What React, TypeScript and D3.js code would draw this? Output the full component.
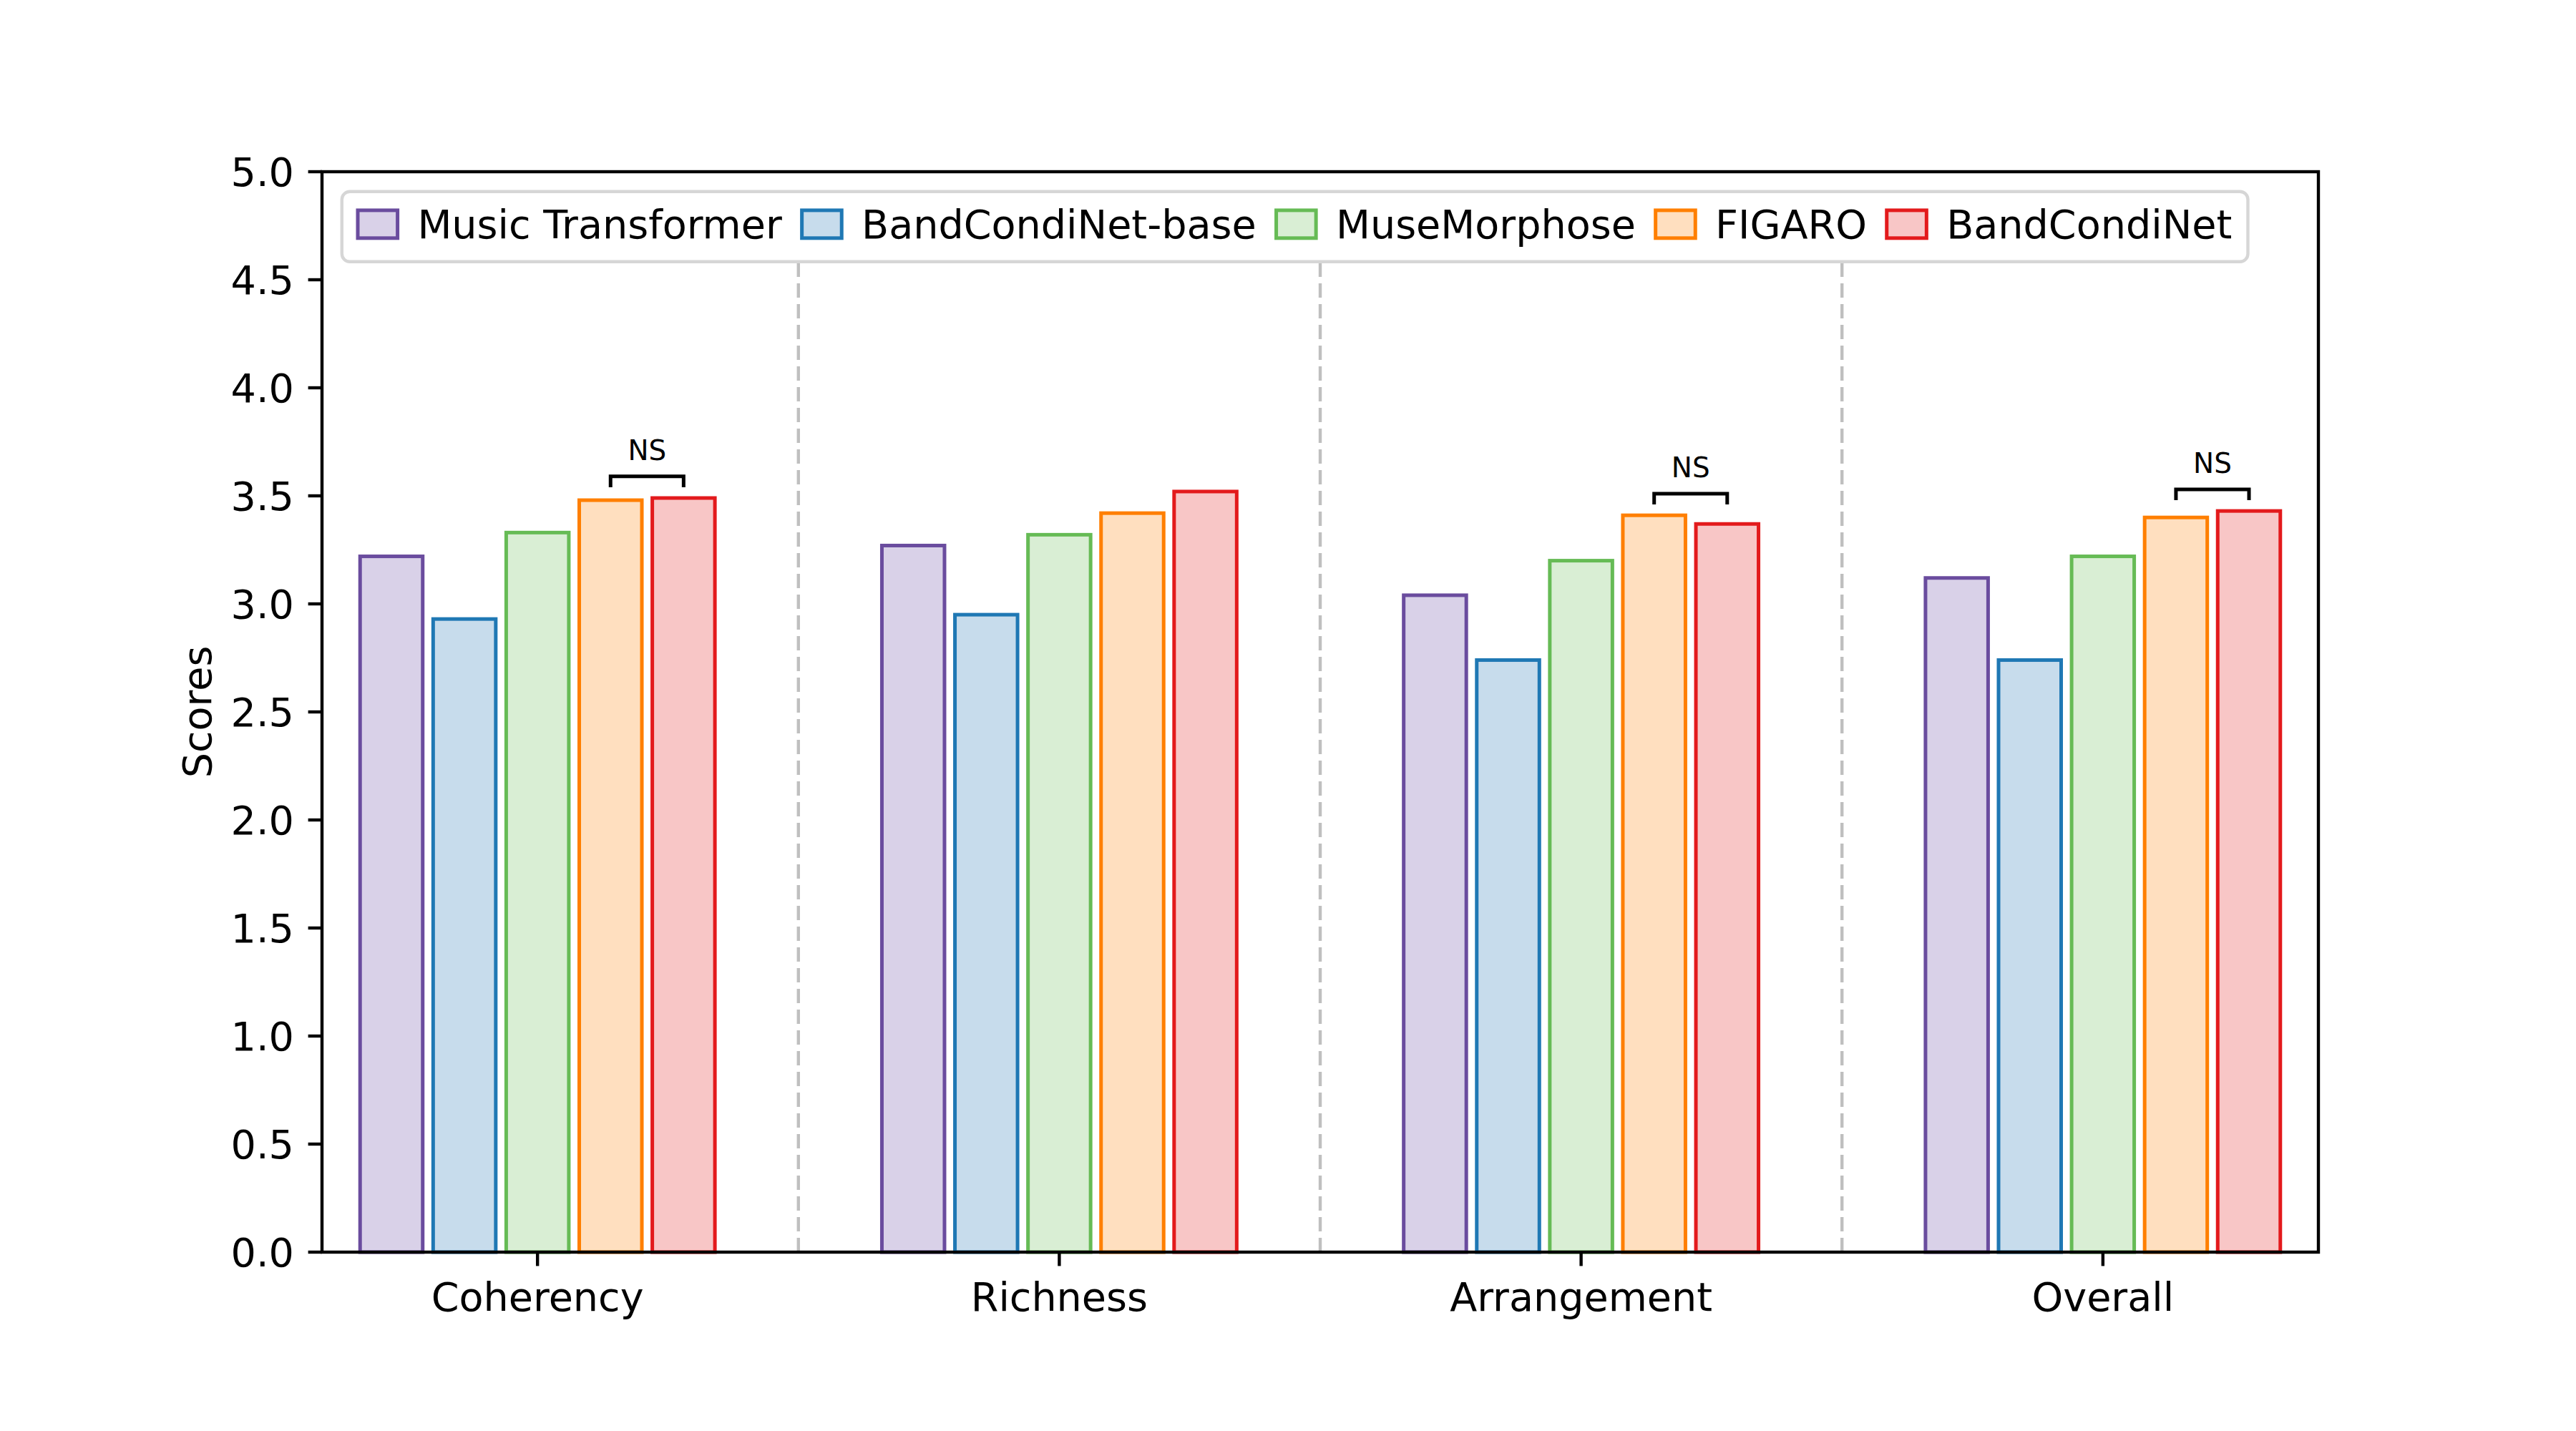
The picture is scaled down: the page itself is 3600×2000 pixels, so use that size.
import React, { useEffect, useRef } from 'react';
import * as d3 from 'd3';

const categories = ['Coherency', 'Richness', 'Arrangement', 'Overall'];
const models = ['Music Transformer', 'BandCondiNet-base', 'MuseMorphose', 'FIGARO', 'BandCondiNet'];

const musicTransformer = [3.22, 3.27, 3.04, 3.12];
const bandCondiNetBase = [2.93, 2.95, 2.74, 2.74];
const museMorphose = [3.33, 3.32, 3.2, 3.22];
const figaro = [3.48, 3.42, 3.41, 3.4];
const bandCondiNet = [3.49, 3.52, 3.37, 3.43];

const seriesValues = [musicTransformer, bandCondiNetBase, museMorphose, figaro, bandCondiNet];

const edgeColors = ['#6a4c9e', '#1f78b4', '#66bb55', '#ff7f00', '#e31a1c'];
const fillColors = ['#d9d1e8', '#c7dcec', '#d9eed4', '#ffdfbf', '#f8c6c6'];

const yTicks = [0, 0.5, 1.0, 1.5, 2.0, 2.5, 3.0, 3.5, 4.0, 4.5, 5.0];
const yTickLabels = ['0.0', '0.5', '1.0', '1.5', '2.0', '2.5', '3.0', '3.5', '4.0', '4.5', '5.0'];

// "NS" brackets between FIGARO and BandCondiNet
const nsCategories = ['Coherency', 'Arrangement', 'Overall'];
const nsPair = [3, 4];

const W = 3600;
const H = 2000;
const FONT = '"DejaVu Sans", sans-serif';
const FS = 55.6;

const App: React.FC = () => {
  const svgRef = useRef<SVGSVGElement>(null);

  useEffect(() => {
    document.body.style.margin = '0';
    if (!svgRef.current) return;
    const svg = d3.select(svgRef.current);
    svg.selectAll('*').remove();

    const left = 450, right = 3240, top = 240, bottom = 1750;
    const x = d3.scaleLinear().domain([-0.413, 3.413]).range([left, right]);
    const y = d3.scaleLinear().domain([0, 5]).range([bottom, top]);

    const step = 0.14;
    const barW = 0.12;

    svg.append('rect').attr('width', W).attr('height', H).attr('fill', '#fff');

    const sepLayer = svg.append('g');
    const barLayer = svg.append('g');

    // Bars
    seriesValues.forEach((vals, si) => {
      barLayer.selectAll(`rect.s${si}`)
        .data(vals)
        .enter()
        .append('rect')
        .attr('x', (_, ci) => x(ci + (si - 2) * step - barW / 2))
        .attr('width', (_, ci) => x(ci + (si - 2) * step + barW / 2) - x(ci + (si - 2) * step - barW / 2))
        .attr('y', d => y(d))
        .attr('height', d => y(0) - y(d))
        .attr('fill', fillColors[si])
        .attr('stroke', edgeColors[si])
        .attr('stroke-width', 5);
    });

    // Spines
    svg.append('rect')
      .attr('x', left).attr('y', top)
      .attr('width', right - left).attr('height', bottom - top)
      .attr('fill', 'none').attr('stroke', '#000').attr('stroke-width', 4.4);

    // Y axis ticks
    const yAxis = svg.append('g');
    yTicks.forEach((t, i) => {
      yAxis.append('line')
        .attr('x1', left).attr('x2', left - 19.4)
        .attr('y1', y(t)).attr('y2', y(t))
        .attr('stroke', '#000').attr('stroke-width', 4.4);
      yAxis.append('text')
        .attr('x', left - 39).attr('y', y(t) + 20)
        .attr('text-anchor', 'end')
        .attr('font-family', FONT).attr('font-size', FS)
        .text(yTickLabels[i]);
    });

    // X axis ticks
    categories.forEach((c, ci) => {
      svg.append('line')
        .attr('x1', x(ci)).attr('x2', x(ci))
        .attr('y1', bottom).attr('y2', bottom + 19.4)
        .attr('stroke', '#000').attr('stroke-width', 4.4);
      svg.append('text')
        .attr('x', x(ci)).attr('y', 1832)
        .attr('text-anchor', 'middle')
        .attr('font-family', FONT).attr('font-size', FS)
        .text(c);
    });

    // Y label
    svg.append('text')
      .attr('transform', `translate(295,${(top + bottom) / 2}) rotate(-90)`)
      .attr('text-anchor', 'middle')
      .attr('font-family', FONT).attr('font-size', FS)
      .text('Scores');

    // NS brackets
    nsCategories.forEach(c => {
      const ci = categories.indexOf(c);
      const [a, b] = nsPair;
      const xa = x(ci + (a - 2) * step);
      const xb = x(ci + (b - 2) * step);
      const h = Math.max(seriesValues[a][ci], seriesValues[b][ci]) + 0.1;
      const leg = 0.05;
      svg.append('path')
        .attr('d', `M${xa},${y(h - leg)}L${xa},${y(h)}L${xb},${y(h)}L${xb},${y(h - leg)}`)
        .attr('fill', 'none').attr('stroke', '#000').attr('stroke-width', 5);
      svg.append('text')
        .attr('x', (xa + xb) / 2).attr('y', y(h + 0.076))
        .attr('text-anchor', 'middle')
        .attr('font-family', FONT).attr('font-size', 38.9)
        .text('NS');
    });

    // Legend
    const pad = 22.2, handleW = 55.6, handleH = 38.9, textPad = 27.8, colSpace = 27.8;
    const legX = left + 27.8, legY = top + 27.8;
    const legend = svg.append('g');
    const frame = legend.append('rect');
    let cx = legX + pad;
    const rowH = 53.5;
    const baseline = legY + pad + rowH * 0.8;
    models.forEach((m, i) => {
      legend.append('rect')
        .attr('x', cx).attr('y', baseline - handleH)
        .attr('width', handleW).attr('height', handleH)
        .attr('fill', fillColors[i]).attr('stroke', edgeColors[i]).attr('stroke-width', 5);
      cx += handleW + textPad;
      const t = legend.append('text')
        .attr('x', cx).attr('y', baseline)
        .attr('font-family', FONT).attr('font-size', FS)
        .text(m);
      const tw = (t.node() as SVGTextElement).getComputedTextLength();
      cx += tw + (i < models.length - 1 ? colSpace : 0);
    });
    const legW = cx + pad - legX;
    const legH = rowH + 2 * pad;
    frame
      .attr('x', legX).attr('y', legY)
      .attr('width', legW).attr('height', legH)
      .attr('rx', 11).attr('ry', 11)
      .attr('fill', '#fff').attr('stroke', '#d6d6d6').attr('stroke-width', 4.4);

    // Dashed separators, stopping at the legend
    [0.5, 1.5, 2.5].forEach(v => {
      sepLayer.append('line')
        .attr('x1', x(v)).attr('x2', x(v))
        .attr('y1', y(0)).attr('y2', legY + legH)
        .attr('stroke', '#bfbfbf').attr('stroke-width', 4.4)
        .attr('stroke-dasharray', '20,9');
    });
  }, []);

  return <svg ref={svgRef} width={W} height={H} style={{ display: 'block' }} />;
};

export default App;
